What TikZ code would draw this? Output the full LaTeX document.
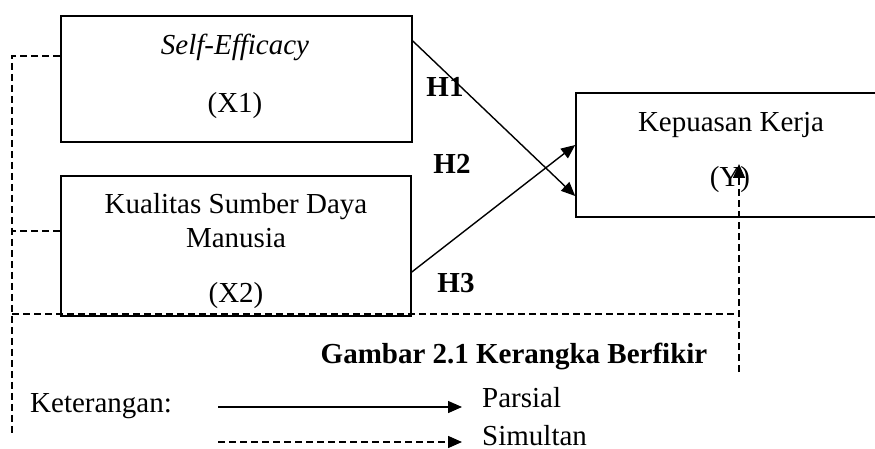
\documentclass[tikz,border=0pt]{standalone}
\usepackage{fontspec}
\setmainfont{Liberation Serif}
\usetikzlibrary{arrows.meta}
\begin{document}
\begin{tikzpicture}[x=1pt,y=-1pt,
  box/.style={draw,line width=1.6pt,inner sep=0pt},
  txt/.style={inner sep=0pt,anchor=base,font=\fontsize{29}{34}\selectfont},
  ltxt/.style={txt,anchor=base west},
  hlab/.style={txt,font=\fontsize{29}{34}\selectfont\bfseries},
  solidarrow/.style={line width=1.4pt,-{Triangle[length=14pt,width=12pt]}},
  dashline/.style={line width=1.5pt,dash pattern=on 7pt off 4pt},
  dasharrow/.style={dashline,-{Triangle[length=14pt,width=12pt]}}]
\useasboundingbox (0,0) rectangle (875,449);
\clip (0,0) rectangle (875,449);
% boxes
\node[box,minimum width=351pt,minimum height=126pt] (x1) at (236.5,79) {};
\node[box,minimum width=350pt,minimum height=140pt] (x2) at (236,246) {};
\node[box,minimum width=310pt,minimum height=124pt] (yb) at (731,155) {};
% texts
\node[txt] (t1) at (235,55) {\itshape Self-Efficacy};
\node[txt] (t2) at (235,113) {(X1)};
\node[txt] (t3) at (236,213) {Kualitas Sumber Daya};
\node[txt] (t4) at (236,247) {Manusia};
\node[txt] (t5) at (236,302) {(X2)};
\node[txt] (t6) at (731,132) {Kepuasan Kerja};
\node[txt] (t7) at (730,187) {(Y)};
\node[hlab] (h1) at (445,97) {H1};
\node[hlab] (h2) at (452,174) {H2};
\node[hlab] (h3) at (456,292) {H3};
\node[hlab] (cap) at (514,363) {Gambar 2.1 Kerangka Berfikir};
\node[ltxt] (ket) at (30,412) {Keterangan:};
\node[ltxt] (par) at (482,407) {Parsial};
\node[ltxt] (sim) at (482,445) {Simultan};
% coordinates for connectors
\coordinate (a1s) at (x1.east |- 0,41);
\coordinate (a1e) at (yb.west |- 0,196);
\coordinate (a3s) at (x2.east |- 0,272);
\coordinate (a3e) at (yb.west |- 0,145);
\coordinate (d1) at (12,56);
\coordinate (d2) at (12,231);
\coordinate (d3) at (12,314);
\coordinate (d4) at (12,435);
\coordinate (d5) at (739,314);
\coordinate (d6) at (739,372);
\coordinate (d7) at (739,164);
\coordinate (l1s) at (218,407);
\coordinate (l1e) at (462,407);
\coordinate (l2s) at (218,442);
\coordinate (l2e) at (462,442);
% connectors
\draw[solidarrow] (a1s) -- (a1e);
\draw[solidarrow] (a3s) -- (a3e);
\draw[dashline] (x1.west |- d1) -- (d1) -- (d4);
\draw[dashline] (x2.west |- d2) -- (d2);
\draw[dashline] (d3) -- (d5);
\draw[dasharrow] (d6) -- (d7);
\draw[solidarrow] (l1s) -- (l1e);
\draw[dasharrow] (l2s) -- (l2e);
\end{tikzpicture}
\end{document}
